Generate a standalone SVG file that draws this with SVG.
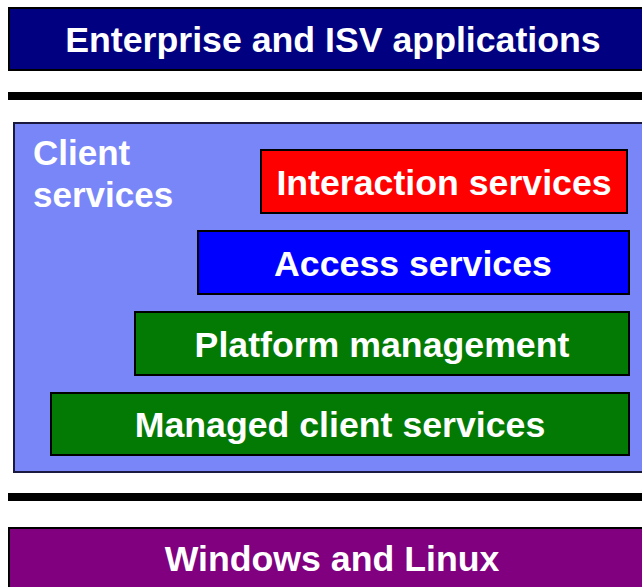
<svg xmlns="http://www.w3.org/2000/svg" width="642" height="587" viewBox="0 0 642 587">
<style>
.box{stroke:#000;stroke-width:2}
.lbl{font-family:"Liberation Sans",Arial,sans-serif;font-weight:bold;font-size:35.7px;fill:#fff;text-anchor:middle}
.lbll{font-family:"Liberation Sans",Arial,sans-serif;font-weight:bold;font-size:35px;fill:#fff}
.bar{fill:#000}
</style>
<rect width="642" height="587" fill="#fff"/>
<g id="enterprise">
<rect class="box" x="9" y="8" width="640" height="62" fill="#000080"/>
<text class="lbl" x="333" y="52">Enterprise and ISV applications</text>
</g>
<g id="separators">
<rect class="bar" x="8" y="92" width="640" height="8"/>
<rect class="bar" x="8" y="493" width="640" height="8"/>
</g>
<g id="client-services">
<rect x="14" y="123" width="634" height="349" fill="#7986F8" stroke="#1a1a40" stroke-width="2"/>
<text class="lbll" x="33" y="165">Client</text>
<text class="lbll" x="33" y="207">services</text>
</g>
<g id="interaction-services">
<rect class="box" x="261" y="150" width="366" height="63" fill="#FF0000"/>
<text class="lbl" x="444" y="195">Interaction services</text>
</g>
<g id="access-services">
<rect class="box" x="198" y="231" width="431" height="63" fill="#0000FF"/>
<text class="lbl" x="413" y="276">Access services</text>
</g>
<g id="platform-management">
<rect class="box" x="135" y="312" width="494" height="63" fill="#037A03"/>
<text class="lbl" x="382" y="357">Platform management</text>
</g>
<g id="managed-client-services">
<rect class="box" x="51" y="393" width="578" height="62" fill="#037A03"/>
<text class="lbl" x="340" y="437">Managed client services</text>
</g>
<g id="windows-linux">
<rect class="box" x="9" y="528" width="640" height="70" fill="#800080"/>
<text class="lbl" x="332" y="571">Windows and Linux</text>
</g>
</svg>
